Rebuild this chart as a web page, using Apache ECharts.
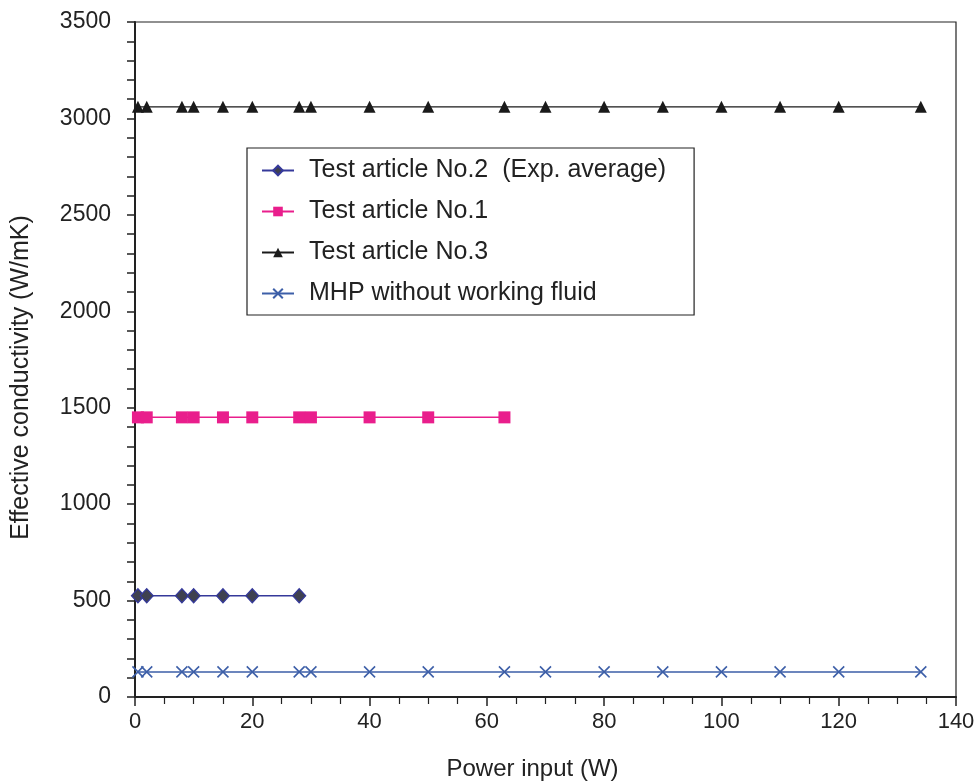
<!DOCTYPE html>
<html>
<head>
<meta charset="utf-8">
<script src="https://cdn.jsdelivr.net/npm/echarts@6/dist/echarts.min.js"></script>
<style>
  html, body { margin: 0; padding: 0; background: #fff; }
  #main { width: 974px; height: 783px; }
</style>
</head>
<body>
<div id="main"></div>
<script>
  // values
  var power3 = [0.5, 2, 8, 10, 15, 20, 28, 30, 40, 50, 63, 70, 80, 90, 100, 110, 120, 134]
  var power1 = [0.5, 2, 8, 10, 15, 20, 28, 30, 40, 50, 63]
  var power2 = [0.5, 2, 8, 10, 15, 20, 28]
  var cond2 = [525, 525, 525, 525, 525, 525, 525]
  var cond1 = [1450, 1450, 1450, 1450, 1450, 1450, 1450, 1450, 1450, 1450, 1450]
  var cond3 = [3060, 3060, 3060, 3060, 3060, 3060, 3060, 3060, 3060, 3060, 3060, 3060, 3060, 3060, 3060, 3060, 3060, 3060]
  var condMhp = [130, 130, 130, 130, 130, 130, 130, 130, 130, 130, 130, 130, 130, 130, 130, 130, 130, 130]
  var names = ['Test article No.2  (Exp. average)', 'Test article No.1', 'Test article No.3', 'MHP without working fluid']

  function pairs(xs, ys) {
    return xs.map(function (x, i) { return [x, ys[i]] })
  }

  var font = 'Liberation Sans, Arial, sans-serif'
  var chart = echarts.init(document.getElementById('main'))

  var option = {
    animation: false,
    textStyle: { fontFamily: font },
    grid: {
      left: 135, right: 18, top: 22, bottom: 86,
      outerBoundsMode: 'none',
      show: true, borderColor: '#222', borderWidth: 1.2
    },
    legend: {
      orient: 'vertical',
      left: 247, top: 148,
      padding: [10, 28, 9, 14],
      itemGap: 16,
      itemWidth: 32, itemHeight: 12,
      borderColor: '#222', borderWidth: 1.2,
      textStyle: { fontFamily: font, fontSize: 25, color: '#222', padding: [0, 0, 0, 10] },
      data: names
    },
    xAxis: {
      type: 'value',
      min: 0, max: 140, interval: 20,
      name: 'Power input (W)',
      nameLocation: 'middle',
      nameGap: 60,
      nameTextStyle: { fontSize: 24, color: '#222', padding: [0, 26, 0, 0] },
      axisLine: { lineStyle: { color: '#222', width: 2 } },
      axisTick: { length: 9, lineStyle: { color: '#222', width: 1.5 } },
      minorTick: { show: true, splitNumber: 4, length: 7, lineStyle: { color: '#222', width: 1.2 } },
      axisLabel: { fontSize: 22, color: '#222', margin: 14 },
      splitLine: { show: false }
    },
    yAxis: {
      type: 'value',
      min: 0, max: 3500, interval: 500,
      name: 'Effective conductivity (W/mK)',
      nameLocation: 'middle',
      nameGap: 101,
      nameTextStyle: { fontSize: 25, color: '#222', padding: [0, 36, 0, 0] },
      axisLine: { lineStyle: { color: '#222', width: 2 } },
      axisTick: { length: 8, lineStyle: { color: '#222', width: 1.5 } },
      minorTick: { show: true, splitNumber: 5, length: 8, lineStyle: { color: '#222', width: 1.5 } },
      axisLabel: { fontSize: 23, color: '#222', margin: 24, formatter: function (v) { return String(v) } },
      splitLine: { show: false }
    },
    series: [
      {
        name: names[0],
        type: 'line',
        data: pairs(power2, cond2),
        symbol: 'diamond',
        symbolSize: [13, 14],
        lineStyle: { color: '#35399a', width: 1.5 },
        itemStyle: { color: '#3f4150', borderColor: '#35399a', borderWidth: 1.2 },
        z: 4
      },
      {
        name: names[1],
        type: 'line',
        data: pairs(power1, cond1),
        symbol: 'rect',
        symbolSize: 12,
        lineStyle: { color: '#e91e8c', width: 1.5 },
        itemStyle: { color: '#e91e8c' },
        z: 3
      },
      {
        name: names[2],
        type: 'line',
        data: pairs(power3, cond3),
        symbol: 'triangle',
        symbolSize: [12, 12],
        lineStyle: { color: '#1a1a1a', width: 1.2 },
        itemStyle: { color: '#1a1a1a' },
        z: 3
      },
      {
        name: names[3],
        type: 'line',
        data: pairs(power3, condMhp),
        symbol: 'path://M0,0L10,10M10,0L0,10',
        symbolSize: 11,
        lineStyle: { color: '#3d5fa8', width: 1.5 },
        itemStyle: { color: 'none', borderColor: '#3d5fa8', borderWidth: 1.6 },
        z: 3
      }
    ]
  }

  option && chart.setOption(option)
</script>
</body>
</html>
